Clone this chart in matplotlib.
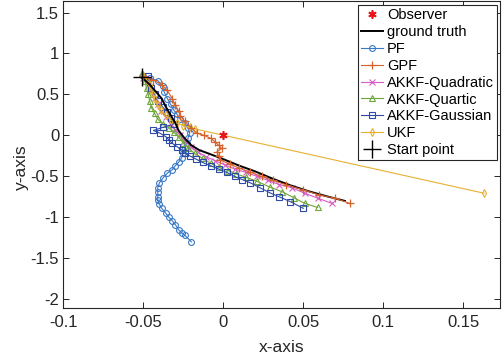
import matplotlib
matplotlib.use("Agg")
import matplotlib.pyplot as plt

plt.rcParams['font.family'] = ['Liberation Sans', 'DejaVu Sans']
plt.rcParams['axes.unicode_minus'] = False

# trajectories (x, y)
truth_x = [-0.051, -0.046, -0.042, -0.0385, -0.036, -0.033, -0.030, -0.028, -0.024, -0.020, -0.015, -0.008, 0.000, 0.010, 0.020, 0.031, 0.042, 0.053, 0.064, 0.076]
truth_y = [0.71, 0.62, 0.53, 0.45, 0.35, 0.25, 0.15, 0.06, -0.04, -0.12, -0.18, -0.23, -0.29, -0.37, -0.44, -0.53, -0.61, -0.68, -0.74, -0.80]

pf_x = [-0.050, -0.046, -0.041, -0.038, -0.037, -0.035, -0.033, -0.031, -0.029, -0.027, -0.024, -0.022, -0.021, -0.022, -0.023, -0.024, -0.025, -0.026, -0.028, -0.030, -0.032, -0.035, -0.0375, -0.040, -0.041, -0.041, -0.041, -0.041, -0.040, -0.0385, -0.036, -0.034, -0.032, -0.030, -0.028, -0.026, -0.024, -0.020]
pf_y = [0.72, 0.70, 0.67, 0.60, 0.53, 0.45, 0.38, 0.31, 0.26, 0.20, 0.15, 0.09, 0.03, -0.03, -0.09, -0.15, -0.21, -0.27, -0.33, -0.37, -0.42, -0.46, -0.515, -0.58, -0.64, -0.69, -0.75, -0.79, -0.84, -0.89, -0.95, -1.00, -1.04, -1.09, -1.15, -1.19, -1.22, -1.30]

gpf_x = [-0.050, -0.044, -0.0385, -0.035, -0.032, -0.030, -0.028, -0.027, -0.024, -0.020, -0.0166, -0.012, -0.008, -0.005, -0.003, -0.001, -0.004, -0.003, -0.002, 0.004, 0.010, 0.017, 0.024, 0.031, 0.039, 0.050, 0.060, 0.070, 0.079]
gpf_y = [0.72, 0.68, 0.62, 0.55, 0.45, 0.37, 0.30, 0.24, 0.17, 0.09, 0.03, 0.00, -0.035, -0.08, -0.12, -0.16, -0.20, -0.25, -0.30, -0.35, -0.40, -0.45, -0.50, -0.55, -0.60, -0.665, -0.727, -0.767, -0.83]

quad_x = [-0.050, -0.047, -0.045, -0.043, -0.041, -0.039, -0.036, -0.033, -0.030, -0.027, -0.024, -0.020, -0.016, -0.011, -0.005, 0.001, 0.007, 0.014, 0.021, 0.028, 0.035, 0.043, 0.051, 0.059, 0.068]
quad_y = [0.70, 0.62, 0.54, 0.46, 0.38, 0.30, 0.22, 0.14, 0.07, 0.00, -0.07, -0.14, -0.20, -0.26, -0.31, -0.36, -0.41, -0.45, -0.50, -0.55, -0.60, -0.64, -0.706, -0.767, -0.83]

quart_x = [-0.051, -0.049, -0.048, -0.047, -0.046, -0.045, -0.043, -0.041, -0.038, -0.034, -0.031, -0.028, -0.025, -0.022, -0.018, -0.013, -0.008, -0.003, 0.003, 0.008, 0.014, 0.021, 0.029, 0.037, 0.044, 0.051, 0.059]
quart_y = [0.76, 0.66, 0.58, 0.50, 0.42, 0.34, 0.27, 0.20, 0.14, 0.09, 0.04, -0.02, -0.09, -0.15, -0.22, -0.28, -0.34, -0.39, -0.43, -0.47, -0.51, -0.56, -0.63, -0.69, -0.76, -0.83, -0.88]

gauss_x = [-0.047, -0.046, -0.045, -0.043, -0.041, -0.038, -0.035, -0.033, -0.031, -0.0375, -0.0437, -0.0396, -0.036, -0.034, -0.032, -0.029, -0.026, -0.024, -0.021, -0.017, -0.013, -0.008, -0.003, 0.002, 0.007, 0.012, 0.017, 0.023, 0.029, 0.035, 0.042, 0.050]
gauss_y = [0.72, 0.65, 0.58, 0.50, 0.42, 0.35, 0.28, 0.21, 0.14, 0.10, 0.06, 0.027, -0.015, -0.055, -0.095, -0.137, -0.177, -0.22, -0.25, -0.29, -0.33, -0.37, -0.41, -0.45, -0.50, -0.54, -0.58, -0.64, -0.70, -0.75, -0.81, -0.89]

ukf_x = [-0.050, -0.048, -0.046, -0.045, -0.044, -0.043, -0.041, -0.039, -0.036, -0.033, -0.029, -0.025, -0.021, -0.018, 0.163]
ukf_y = [0.72, 0.68, 0.62, 0.56, 0.50, 0.44, 0.37, 0.31, 0.25, 0.19, 0.15, 0.12, 0.10, 0.08, -0.706]

observer = (0.0, 0.0)
start = (-0.051, 0.71)

xticks = [-0.1, -0.05, 0, 0.05, 0.1, 0.15]
xticklabels = ['-0.1', '-0.05', '0', '0.05', '0.1', '0.15']
yticks = [-2, -1.5, -1, -0.5, 0, 0.5, 1, 1.5]
yticklabels = ['-2', '-1.5', '-1', '-0.5', '0', '0.5', '1', '1.5']

fig = plt.figure(figsize=(5.03, 3.58), dpi=100)
ax = fig.add_axes([0.126, 0.140, 0.868, 0.857])

lw = 0.8
ms = 4.2
ax.plot(*observer, marker=(6, 2, 0), ls='none', color='#e8141c', ms=6, mew=1.2, label='Observer', zorder=6)
ax.plot(truth_x, truth_y, '-', color='k', lw=1.4, label='ground truth', zorder=3)
ax.plot(pf_x, pf_y, '-o', color='#3a78c6', lw=lw, ms=ms, mfc='none', mew=0.8, label='PF')
ax.plot(gpf_x, gpf_y, '-+', color='#d4622a', lw=lw, ms=5.5, mew=0.9, label='GPF', zorder=4)
ax.plot(quad_x, quad_y, '-x', color='#d65cc6', lw=lw, ms=ms, mew=0.8, label='AKKF-Quadratic')
ax.plot(quart_x, quart_y, '-^', color='#6ea63a', lw=lw, ms=ms, mfc='none', mew=0.8, label='AKKF-Quartic')
ax.plot(gauss_x, gauss_y, '-s', color='#2e4aa8', lw=lw, ms=ms, mfc='none', mew=0.8, label='AKKF-Gaussian')
ax.plot(ukf_x, ukf_y, '-d', color='#e8b030', lw=lw, ms=ms, mfc='none', mew=0.8, label='UKF')
ax.plot(*start, '+', color='k', ms=13, mew=1.0, label='Start point', zorder=7)

ax.set_xlim(-0.1, 0.173)
ax.set_ylim(-2.106, 1.64)
ax.set_xticks(xticks)
ax.set_xticklabels(xticklabels)
ax.set_yticks(yticks)
ax.set_yticklabels(yticklabels)

ax.tick_params(direction='in', length=4, width=0.7, colors='#262626', labelsize=12,
               top=True, right=True)
ax.tick_params(axis='x', pad=5)
ax.tick_params(axis='y', pad=3)
for s in ax.spines.values():
    s.set_color('#262626')
    s.set_linewidth(0.8)

ax.set_xlabel('x-axis', fontsize=12.5, color='#262626')
ax.set_ylabel('y-axis', fontsize=12.5, color='#262626')
ax.xaxis.set_label_coords(0.5, -0.105)
ax.yaxis.set_label_coords(-0.08, 0.459)

leg = ax.legend(loc='upper right', bbox_to_anchor=(0.993, 0.987), fontsize=10.5,
                frameon=True, fancybox=False, framealpha=1, edgecolor='#262626',
                borderpad=0.2, labelspacing=0.2, handlelength=1.5, handletextpad=0.3,
                borderaxespad=0)
leg.get_frame().set_linewidth(0.8)

fig.savefig('out.png', dpi=100)
